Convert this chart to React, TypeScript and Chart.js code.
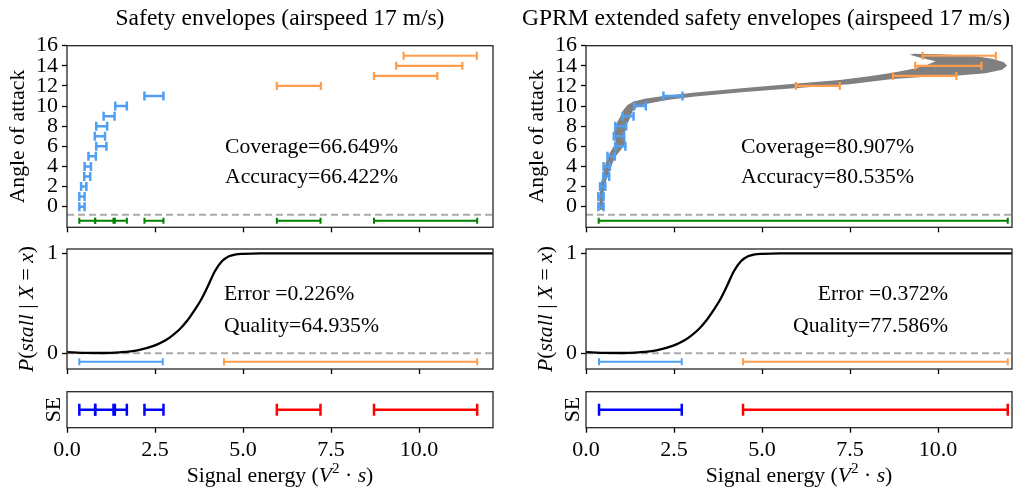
import React, { useEffect, useRef } from 'react';
import { Chart, registerables } from 'chart.js';

Chart.register(...registerables);

const FONT = '"Liberation Serif", "DejaVu Serif", "Times New Roman", Times, serif';

// ---------- axes ----------
const xMin = 0;
const xMax = 12.1;
const xTicks = [0, 2.5, 5, 7.5, 10];
const aoaMin = -2.05;
const aoaMax = 16;
const aoaTicks = [0, 2, 4, 6, 8, 10, 12, 14, 16];
const probMin = -0.157;
const probMax = 1.043;
const probTicks = [0, 1];
const seMin = -1;
const seMax = 1;

// ---------- observations (angle of attack vs signal energy ranges) ----------
const safeAoA = [0, 1, 2, 3, 4, 5, 6, 7, 8, 9, 10, 11];
const safeLo = [0.35, 0.35, 0.4, 0.49, 0.5, 0.61, 0.83, 0.79, 0.83, 1.04, 1.37, 2.2];
const safeHi = [0.5, 0.5, 0.55, 0.66, 0.68, 0.82, 1.12, 1.08, 1.14, 1.35, 1.7, 2.74];
const stallAoA = [12, 13, 14, 15];
const stallLo = [5.96, 8.72, 9.35, 9.56];
const stallHi = [7.21, 10.52, 11.23, 11.64];

// ---------- safety envelopes (left column) ----------
const envSafeLo = [0.35, 0.8, 1.36, 2.2];
const envSafeHi = [0.8, 1.32, 1.7, 2.74];
const envStallLo = [5.96, 8.72];
const envStallHi = [7.2, 11.65];
const probSafeLo = [0.35];
const probSafeHi = [2.72];
const probStallLo = [4.46];
const probStallHi = [11.65];

// ---------- GPRM extended envelopes (right column) ----------
const gprmCoverLo = [0.36];
const gprmCoverHi = [11.98];
const gprmSafeLo = [0.37];
const gprmSafeHi = [2.72];
const gprmStallLo = [4.46];
const gprmStallHi = [11.98];

// ---------- P(stall | X = x) ----------
const stallX = [0, 0.5, 1.0, 1.5, 2.0, 2.5, 2.8, 3.0, 3.2, 3.4, 3.6, 3.8, 4.0, 4.2, 4.4, 4.6, 4.8, 5.0, 5.5, 6.0, 8.0, 10.0, 12.1];
const stallP = [0.012, 0.004, 0.003, 0.01, 0.03, 0.08, 0.13, 0.18, 0.24, 0.32, 0.42, 0.53, 0.67, 0.82, 0.92, 0.97, 0.99, 0.995, 1.0, 1.0, 1.0, 1.0, 1.0];

// ---------- GPRM band outline (signal energy, angle of attack) ----------
const bandX = [
  0.38, 0.38, 0.41, 0.46, 0.53, 0.62, 0.72, 0.84, 0.82, 0.8, 0.87, 0.98, 1.06, 1.18, 1.35, 1.7, 2.3, 3.1, 4.5, 6.0, 7.2, 8.0, 8.71, 9.3, 9.7, 9.93,
  9.5, 9.2, 9.3, 10.03, 10.97, 11.54, 11.87, 11.96, 11.82, 11.35, 10.5, 9.56, 8.71, 7.48, 6.0, 4.5, 3.1, 2.3, 1.7, 1.45, 1.32, 1.27, 1.18, 1.11, 1.13, 1.11, 0.99, 0.83, 0.64, 0.52, 0.5, 0.49,
];
const bandY = [
  -0.3, 1.0, 2.0, 3.0, 4.0, 5.0, 5.6, 6.3, 7.0, 7.6, 8.3, 9.0, 9.6, 10.1, 10.45, 10.75, 11.05, 11.35, 11.8, 12.25, 12.6, 12.95, 13.3, 13.7, 14.1, 14.45,
  14.8, 15.1, 15.2, 15.15, 15.0, 14.7, 14.35, 14.0, 13.6, 13.27, 13.02, 12.88, 12.7, 12.17, 11.8, 11.4, 10.95, 10.6, 10.2, 9.9, 9.5, 8.95, 8.29, 7.62, 6.96, 6.3, 5.64, 4.97, 3.32, 2.0, 1.0, -0.3,
];

// row levels
const floorLevel = -0.8;
const envRowLevel = -1.4;
const probFloor = 0;
const probRowLevel = -0.085;
const seRowLevel = 0;

// ---------- styles ----------
const C_SAFE = '#4f9ff2';
const C_STALL = '#ff9d4d';
const C_ENV = '#008000';
const C_SE_SAFE = '#0000ff';
const C_SE_STALL = '#ff0000';
const C_DASH = '#aaaaaa';
const C_BAND = '#808080';
const BASE = 21.7;

type Seg = { t: string; it?: boolean; sup?: boolean };
type TextItem = { segs: Seg[]; x: number; y: number; size: number; align: 'left' | 'center' | 'right'; rot?: boolean };

function drawRich(ctx: CanvasRenderingContext2D, it: TextItem) {
  ctx.save();
  ctx.fillStyle = '#000';
  ctx.textBaseline = 'alphabetic';
  ctx.textAlign = 'left';
  const fontFor = (s: Seg) => `${s.it ? 'italic ' : ''}${Math.round((s.sup ? it.size * 0.7 : it.size) * 10) / 10}px ${FONT}`;
  let total = 0;
  const widths = it.segs.map((s) => {
    ctx.font = fontFor(s);
    const w = ctx.measureText(s.t).width;
    total += w;
    return w;
  });
  ctx.translate(it.x, it.y);
  if (it.rot) ctx.rotate(-Math.PI / 2);
  let x = it.align === 'center' ? -total / 2 : it.align === 'right' ? -total : 0;
  it.segs.forEach((s, i) => {
    ctx.font = fontFor(s);
    ctx.fillText(s.t, x, s.sup ? -it.size * 0.38 : 0);
    x += widths[i];
  });
  ctx.restore();
}

function errorBars(lo: number[], hi: number[], ys: number[], color: string, width: number, cap: number) {
  const data: any[] = [];
  lo.forEach((a, i) => {
    data.push({ x: a, y: ys[i] }, { x: hi[i], y: ys[i] }, { x: hi[i], y: null });
  });
  return {
    data,
    borderColor: color,
    borderWidth: width,
    pointStyle: 'line',
    pointRotation: 90,
    pointRadius: cap,
    pointHoverRadius: cap,
    pointBorderColor: color,
    pointBorderWidth: width,
    pointHoverBorderWidth: width,
    pointBackgroundColor: color,
    fill: false,
    tension: 0,
    spanGaps: false,
    order: 1,
  };
}

function rowBars(lo: number[], hi: number[], level: number, color: string, width: number, cap: number) {
  return errorBars(lo, hi, lo.map(() => level), color, width, cap);
}

function dashed(level: number) {
  return {
    data: [
      { x: xMin, y: level },
      { x: xMax, y: level },
    ],
    borderColor: C_DASH,
    borderWidth: 2,
    borderDash: [7, 4],
    pointRadius: 0,
    fill: false,
    order: 8,
  };
}

interface Panel {
  left: number;
  top: number;
  width: number;
  height: number;
  pl: number;
  pt: number;
  pr: number;
  pb: number;
  yMin: number;
  yMax: number;
  yTicks: number[];
  xLabels: boolean;
  datasets: any[];
  texts: TextItem[];
}

const framePlugin = {
  id: 'frame',
  afterDraw(chart: any) {
    const { ctx, chartArea } = chart;
    ctx.save();
    ctx.strokeStyle = '#262626';
    ctx.lineWidth = 1.3;
    ctx.strokeRect(chartArea.left, chartArea.top, chartArea.right - chartArea.left, chartArea.bottom - chartArea.top);
    ctx.restore();
  },
};

function buildConfig(p: Panel): any {
  const texts = p.texts.map((t) => ({ ...t, x: t.x - p.left, y: t.y - p.top }));
  const gridOpts = { drawOnChartArea: false, drawTicks: true, tickLength: 5, tickColor: '#000', tickWidth: 1.3 };
  return {
    type: 'line',
    data: { datasets: p.datasets },
    options: {
      responsive: false,
      maintainAspectRatio: false,
      animation: false,
      events: [],
      layout: { padding: { left: 0, top: p.pt - p.top, right: p.left + p.width - p.pr, bottom: 0 } },
      scales: {
        x: {
          type: 'linear',
          min: xMin,
          max: xMax,
          afterBuildTicks: (s: any) => {
            s.ticks = xTicks.map((v) => ({ value: v }));
          },
          ticks: {
            display: p.xLabels,
            autoSkip: false,
            maxRotation: 0,
            padding: 4,
            color: '#000',
            font: { family: FONT, size: 22, lineHeight: 1.2 },
            callback: (v: any) => Number(v).toFixed(1),
          },
          grid: gridOpts,
          border: { display: false },
          afterFit: (s: any) => {
            s.height = p.top + p.height - p.pb;
            s.paddingLeft = 0;
            s.paddingRight = 0;
          },
        },
        y: {
          type: 'linear',
          min: p.yMin,
          max: p.yMax,
          afterBuildTicks: (s: any) => {
            s.ticks = p.yTicks.map((v) => ({ value: v }));
          },
          ticks: {
            display: p.yTicks.length > 0,
            autoSkip: false,
            padding: 4,
            color: '#000',
            font: { family: FONT, size: 22, lineHeight: 1 },
            callback: (v: any) => String(v),
          },
          grid: gridOpts,
          border: { display: false },
          afterFit: (s: any) => {
            s.width = p.pl - p.left;
            s.paddingTop = 0;
            s.paddingBottom = 0;
          },
        },
      },
      plugins: {
        legend: { display: false },
        tooltip: { enabled: false },
        title: { display: false },
      },
    },
    plugins: [
      framePlugin,
      {
        id: 'texts',
        afterDraw(chart: any) {
          texts.forEach((t) => drawRich(chart.ctx, t));
        },
      },
    ],
  };
}

function PanelCanvas({ panel }: { panel: Panel }) {
  const ref = useRef<HTMLCanvasElement>(null);
  useEffect(() => {
    const chart = new Chart(ref.current as HTMLCanvasElement, buildConfig(panel));
    return () => chart.destroy();
  }, []);
  return (
    <canvas
      ref={ref}
      width={panel.width}
      height={panel.height}
      style={{ position: 'absolute', left: panel.left, top: panel.top, width: panel.width, height: panel.height }}
    />
  );
}

const pLabel: Seg[] = [
  { t: 'P', it: true },
  { t: '(' },
  { t: 'stall', it: true },
  { t: ' | ' },
  { t: 'X', it: true },
  { t: ' = ' },
  { t: 'x', it: true },
  { t: ')' },
];
const xLabel: Seg[] = [{ t: 'Signal energy (' }, { t: 'V', it: true }, { t: '2', sup: true }, { t: ' · ' }, { t: 's', it: true }, { t: ')' }];

function makePanels(): Panel[] {
  const cols = [
    { x0: 0, l: 67, r: 493 },
    { x0: 512, l: 586, r: 1012 },
  ];
  const panels: Panel[] = [];
  cols.forEach((c, ci) => {
    const off = c.l - 67;
    const mid = (c.l + c.r) / 2;
    const gprm = ci === 1;
    // top
    panels.push({
      left: c.x0, top: 0, width: 512, height: 240,
      pl: c.l, pt: 45.7, pr: c.r, pb: 227.3,
      yMin: aoaMin, yMax: aoaMax, yTicks: aoaTicks, xLabels: false,
      datasets: [
        rowBars(gprm ? gprmCoverLo : [...envSafeLo, ...envStallLo], gprm ? gprmCoverHi : [...envSafeHi, ...envStallHi], envRowLevel, C_ENV, 2, 3),
        errorBars(stallLo, stallHi, stallAoA, C_STALL, 2.2, 4),
        errorBars(safeLo, safeHi, safeAoA, C_SAFE, 2.5, 4.5),
        dashed(floorLevel),
        ...(gprm
          ? [
              {
                data: bandX.map((x, i) => ({ x, y: bandY[i] })),
                borderColor: C_BAND,
                backgroundColor: C_BAND,
                borderWidth: 0,
                pointRadius: 0,
                fill: 'shape',
                tension: 0,
                order: 10,
              },
            ]
          : []),
      ],
      texts: [
        {
          segs: [{ t: gprm ? 'GPRM extended safety envelopes (airspeed 17 m/s)' : 'Safety envelopes (airspeed 17 m/s)' }],
          x: gprm ? 766 : 280, y: 25, size: 23.5, align: 'center',
        },
        { segs: [{ t: 'Angle of attack' }], x: 24 + off, y: 136.5, size: BASE, align: 'center', rot: true },
        { segs: [{ t: gprm ? 'Coverage=80.907%' : 'Coverage=66.649%' }], x: gprm ? 914 : 398, y: 152.7, size: BASE, align: 'right' },
        { segs: [{ t: gprm ? 'Accuracy=80.535%' : 'Accuracy=66.422%' }], x: gprm ? 914 : 398, y: 183.3, size: BASE, align: 'right' },
      ],
    });
    // middle
    panels.push({
      left: c.x0, top: 240, width: 512, height: 136,
      pl: c.l, pt: 249, pr: c.r, pb: 369,
      yMin: probMin, yMax: probMax, yTicks: probTicks, xLabels: false,
      datasets: [
        { data: stallX.map((x, i) => ({ x, y: stallP[i] })), borderColor: '#000', borderWidth: 2.3, pointRadius: 0, fill: false, cubicInterpolationMode: 'monotone', order: 2 },
        rowBars(gprm ? gprmSafeLo : probSafeLo, gprm ? gprmSafeHi : probSafeHi, probRowLevel, C_SAFE, 2, 3.5),
        rowBars(gprm ? gprmStallLo : probStallLo, gprm ? gprmStallHi : probStallHi, probRowLevel, C_STALL, 2, 3.5),
        dashed(probFloor),
      ],
      texts: [
        { segs: pLabel, x: 33 + off, y: 309, size: BASE, align: 'center', rot: true },
        { segs: [{ t: gprm ? 'Error =0.372%' : 'Error =0.226%' }], x: gprm ? 948 : 224, y: 299.5, size: BASE, align: gprm ? 'right' : 'left' },
        { segs: [{ t: gprm ? 'Quality=77.586%' : 'Quality=64.935%' }], x: gprm ? 948 : 224, y: 331.7, size: BASE, align: gprm ? 'right' : 'left' },
      ],
    });
    // bottom
    panels.push({
      left: c.x0, top: 380, width: 512, height: 108,
      pl: c.l, pt: 391.7, pr: c.r, pb: 427.7,
      yMin: seMin, yMax: seMax, yTicks: [], xLabels: true,
      datasets: [
        rowBars(gprm ? gprmSafeLo : envSafeLo, gprm ? gprmSafeHi : envSafeHi, seRowLevel, C_SE_SAFE, 2.5, 6),
        rowBars(gprm ? gprmStallLo : envStallLo, gprm ? gprmStallHi : envStallHi, seRowLevel, C_SE_STALL, 2.5, 6),
      ],
      texts: [
        { segs: [{ t: 'SE' }], x: 60 + off, y: 409.7, size: BASE, align: 'center', rot: true },
        { segs: xLabel, x: mid, y: 481.5, size: BASE, align: 'center' },
      ],
    });
  });
  return panels;
}

export default function App() {
  const panels = makePanels();
  return (
    <div style={{ position: 'absolute', left: 0, top: 0, width: 1024, height: 488, background: '#fff', overflow: 'hidden', fontFamily: FONT }}>
      {panels.map((p, i) => (
        <PanelCanvas key={i} panel={p} />
      ))}
    </div>
  );
}
